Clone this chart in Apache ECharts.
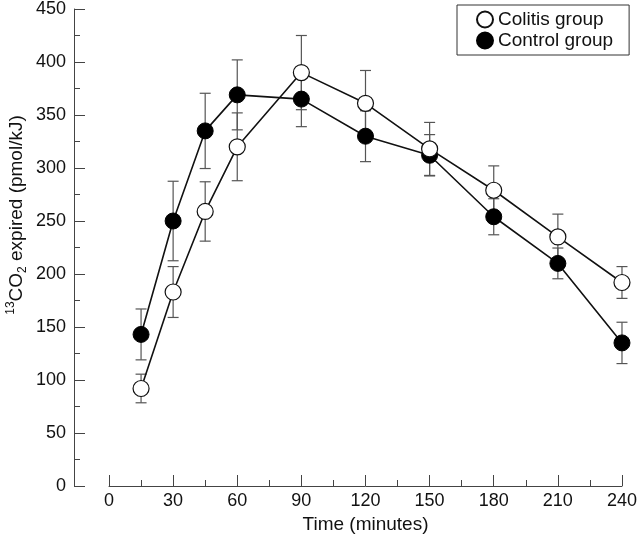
<!DOCTYPE html>
<html>
<head>
<meta charset="utf-8">
<script src="https://cdn.jsdelivr.net/npm/echarts@6/dist/echarts.min.js"></script>
<style>html,body{margin:0;padding:0;background:#fff;}#c{width:640px;height:539px;}</style>
</head>
<body>
<div id="c"></div>
<script>
var times = [15, 30, 45, 60, 90, 120, 150, 180, 210, 240];
var colitisMean = [92, 183, 259, 320, 390, 361, 318, 279, 235, 192];
var colitisErr = [13.5, 24, 28, 32, 35, 31, 25, 23, 21.5, 15];
var controlMean = [143, 250, 335, 369, 365, 330, 312, 254, 210, 135];
var controlErr = [24, 37.5, 35.5, 33, 26, 24, 19.5, 17, 14.5, 19.5];
var seriesNames = ['Colitis group', 'Control group'];
var xTicks = [0, 30, 60, 90, 120, 150, 180, 210, 240];
var yTicks = [0, 50, 100, 150, 200, 250, 300, 350, 400, 450];

var FONT = 'Liberation Sans, Arial, Helvetica, sans-serif';
var AX = '#444';

function pairs(m) { return times.map(function (t, i) { return [t, m[i]]; }); }
function errData(m, e) { return times.map(function (t, i) { return [t, m[i] - e[i], m[i] + e[i]]; }); }

function errRender(params, api) {
  var x = api.value(0);
  var lo = api.coord([x, api.value(1)]);
  var hi = api.coord([x, api.value(2)]);
  var w = 5.5;
  var st = { stroke: '#555', lineWidth: 1.2 };
  return {
    type: 'group',
    children: [
      { type: 'line', shape: { x1: lo[0], y1: lo[1], x2: hi[0], y2: hi[1] }, style: st },
      { type: 'line', shape: { x1: lo[0] - w, y1: lo[1], x2: lo[0] + w, y2: lo[1] }, style: st },
      { type: 'line', shape: { x1: hi[0] - w, y1: hi[1], x2: hi[0] + w, y2: hi[1] }, style: st }
    ]
  };
}

var chart = echarts.init(document.getElementById('c'), null, { renderer: 'canvas' });
chart.setOption({
  animation: false,
  backgroundColor: '#fff',
  textStyle: { fontFamily: FONT },
  grid: { left: 109, right: 12, top: 5, bottom: 48 },
  legend: {
    left: 457, top: 5,
    orient: 'vertical',
    padding: [5, 16, 5, 19],
    itemGap: 2,
    itemWidth: 16, itemHeight: 16,
    borderColor: '#333', borderWidth: 1,
    textStyle: { fontFamily: FONT, fontSize: 19, color: '#111' },
    data: [
      { name: seriesNames[0], icon: 'circle' },
      { name: seriesNames[1], icon: 'circle' }
    ]
  },
  xAxis: {
    type: 'value', min: 0, max: 240, interval: 30,
    name: 'Time (minutes)', nameLocation: 'middle', nameGap: 29,
    nameTextStyle: { fontFamily: FONT, fontSize: 19, color: '#111' },
    axisLine: { onZero: false, lineStyle: { color: AX, width: 1 } },
    axisTick: { inside: true, length: 11, lineStyle: { color: AX } },
    minorTick: { show: true, splitNumber: 2, length: 6, lineStyle: { color: AX } },
    axisLabel: { fontFamily: FONT, fontSize: 18, color: '#111', margin: 6,
      formatter: function (v) { return xTicks.indexOf(v) >= 0 ? String(v) : ''; } },
    splitLine: { show: false }
  },
  yAxis: {
    type: 'value', min: 0, max: 450, interval: 50, offset: 35,
    axisLine: { show: true, onZero: false, lineStyle: { color: AX, width: 1 } },
    axisTick: { show: true, inside: true, length: 11, lineStyle: { color: AX } },
    minorTick: { show: true, splitNumber: 2, length: 6, lineStyle: { color: AX } },
    axisLabel: { fontFamily: FONT, fontSize: 18, color: '#111', margin: 8,
      formatter: function (v) { return yTicks.indexOf(v) >= 0 ? String(v) : ''; } },
    splitLine: { show: false }
  },
  graphic: [{
    type: 'text',
    x: 17, y: 215,
    rotation: Math.PI / 2,
    style: {
      text: '{sup|13}{n|CO}{sub|2}{n| expired (pmol/kJ)}',
      align: 'center', verticalAlign: 'middle',
      fill: '#111',
      rich: {
        n: { fontFamily: FONT, fontSize: 19, fill: '#111', lineHeight: 24 },
        sup: { fontFamily: FONT, fontSize: 12, fill: '#111', verticalAlign: 'top', lineHeight: 24 },
        sub: { fontFamily: FONT, fontSize: 12, fill: '#111', verticalAlign: 'bottom', lineHeight: 24 }
      }
    }
  }],
  series: [
    {
      type: 'custom', name: 'err1', renderItem: errRender, z: 1,
      data: errData(colitisMean, colitisErr), silent: true
    },
    {
      type: 'custom', name: 'err2', renderItem: errRender, z: 1,
      data: errData(controlMean, controlErr), silent: true
    },
    {
      type: 'line', name: seriesNames[1], z: 3,
      data: pairs(controlMean),
      symbol: 'circle', symbolSize: 16,
      lineStyle: { color: '#111', width: 1.6 },
      itemStyle: { color: '#000', borderColor: '#000', borderWidth: 1 }
    },
    {
      type: 'line', name: seriesNames[0], z: 4,
      data: pairs(colitisMean),
      symbol: 'circle', symbolSize: 16,
      lineStyle: { color: '#111', width: 1.6 },
      itemStyle: { color: '#fff', borderColor: '#111', borderWidth: 1.2 }
    }
  ]
});
</script>
</body>
</html>
